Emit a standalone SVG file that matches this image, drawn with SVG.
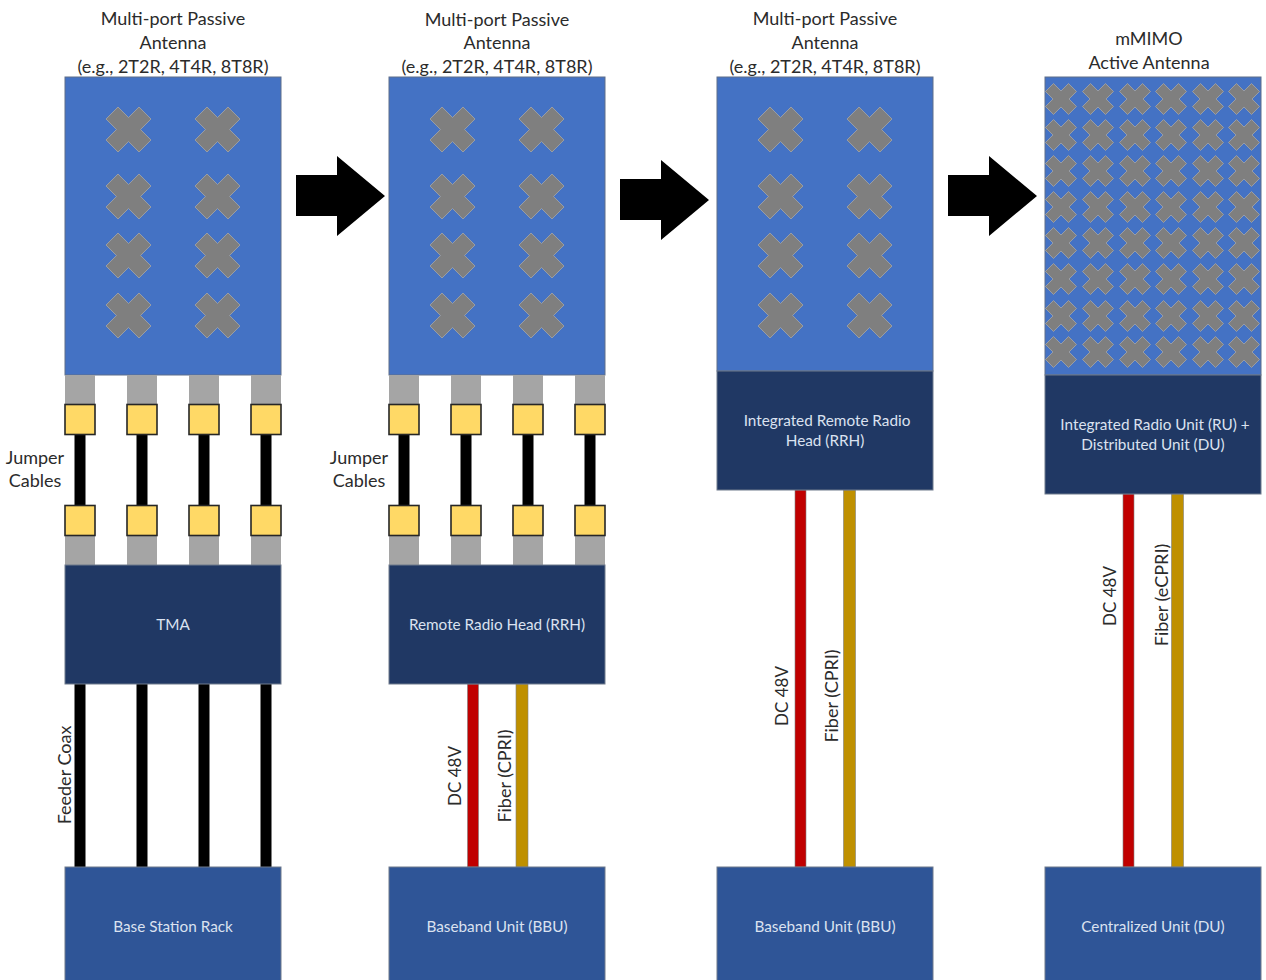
<svg xmlns="http://www.w3.org/2000/svg" width="1266" height="980" viewBox="0 0 1266 980">
<style>
text{font-family:"Lato","Open Sans","Liberation Sans",sans-serif;text-anchor:middle}
.t{font-size:18px;fill:#2b2b2b}
.v{font-size:17px;fill:#2b2b2b}
.w{font-size:15.3px;fill:#dbe2f0}
.ant{fill:#4472c4;stroke:#5f6f8a;stroke-width:1}
.dark{fill:#203864;stroke:#6f7a8c;stroke-width:1}
.base{fill:#2f5597;stroke:#6f7a8c;stroke-width:1}
.g{fill:#a5a5a5}
.y{fill:#ffd966;stroke:#262626;stroke-width:1.6}
.k{fill:#000}
.r{fill:#c00000;stroke:#7f7f7f;stroke-width:.6}
.o{fill:#bf9000;stroke:#7f7f7f;stroke-width:.6}
.x{fill:#7f7f7f;stroke:#a6a6a6;stroke-width:.8}
</style>
<defs>
<polygon id="x" points="-10.500,-22.500 0,-12 10.500,-22.500 22.500,-10.500 12,0 22.500,10.500 10.500,22.500 0,12 -10.500,22.500 -22.500,10.500 -12,0 -22.500,-10.500" class="x"/>
<polygon id="xs" points="-7.500,-15.500 0,-8 7.500,-15.500 15.500,-7.500 8,0 15.500,7.500 7.500,15.500 0,8 -7.500,15.500 -15.500,7.500 -8,0 -15.500,-7.500" class="x"/>
<g id="xset">
<use href="#x" x="63.500" y="129.500"/><use href="#x" x="152.500" y="129.500"/>
<use href="#x" x="63.500" y="196.500"/><use href="#x" x="152.500" y="196.500"/>
<use href="#x" x="63.500" y="255.500"/><use href="#x" x="152.500" y="255.500"/>
<use href="#x" x="63.500" y="315.500"/><use href="#x" x="152.500" y="315.500"/>
</g>
<g id="jump">
<rect class="g" x="0" y="375" width="30" height="29"/><rect class="g" x="62" y="375" width="30" height="29"/><rect class="g" x="124" y="375" width="30" height="29"/><rect class="g" x="186" y="375" width="30" height="29"/>
<rect class="g" x="0" y="535" width="30" height="30"/><rect class="g" x="62" y="535" width="30" height="30"/><rect class="g" x="124" y="535" width="30" height="30"/><rect class="g" x="186" y="535" width="30" height="30"/>
<rect class="k" x="9.500" y="434" width="11" height="72"/><rect class="k" x="71.500" y="434" width="11" height="72"/><rect class="k" x="133.500" y="434" width="11" height="72"/><rect class="k" x="195.500" y="434" width="11" height="72"/>
<rect class="y" x="0" y="404.500" width="30" height="30"/><rect class="y" x="62" y="404.500" width="30" height="30"/><rect class="y" x="124" y="404.500" width="30" height="30"/><rect class="y" x="186" y="404.500" width="30" height="30"/>
<rect class="y" x="0" y="505.500" width="30" height="30"/><rect class="y" x="62" y="505.500" width="30" height="30"/><rect class="y" x="124" y="505.500" width="30" height="30"/><rect class="y" x="186" y="505.500" width="30" height="30"/>
</g>
<polygon id="arrow" points="0,19 41,19 41,0 89,40 41,80 41,60 0,60" class="k"/>
</defs>

<g id="connectors">
<rect class="k" x="74.500" y="684" width="11" height="183"/><rect class="k" x="136.500" y="684" width="11" height="183"/><rect class="k" x="198.500" y="684" width="11" height="183"/><rect class="k" x="260.500" y="684" width="11" height="183"/>
<rect class="r" x="467.500" y="684" width="11" height="183"/><rect class="o" x="516" y="684" width="12" height="183"/>
<rect class="r" x="795" y="490" width="11" height="377"/><rect class="o" x="843.500" y="490" width="12" height="377"/>
<rect class="r" x="1123" y="494" width="11" height="373"/><rect class="o" x="1171.500" y="494" width="12" height="373"/>
<use id="arrow1" href="#arrow" x="296" y="156"/>
<use id="arrow2" href="#arrow" x="620" y="160"/>
<use id="arrow3" href="#arrow" x="948" y="156"/>
</g>

<g id="antenna1">
<text class="t" x="173" y="25">Multi-port Passive</text><text class="t" x="173" y="49">Antenna</text><text class="t" x="173" y="73">(e.g., 2T2R, 4T4R, 8T8R)</text>
<rect class="ant" x="65" y="77" width="216" height="298"/><use href="#xset" x="65"/>
</g>
<g id="jumpers1"><use href="#jump" x="65"/>
<text class="t" x="35" y="464">Jumper</text><text class="t" x="35" y="487">Cables</text></g>
<g id="tma"><rect class="dark" x="65" y="565" width="216" height="119"/><text class="w" x="173" y="630">TMA</text></g>
<g id="rack"><rect class="base" x="65" y="867" width="216" height="114"/><text class="w" x="173" y="932">Base Station Rack</text></g>
<text class="t" transform="translate(71 775) rotate(-90)">Feeder Coax</text>

<g id="antenna2">
<text class="t" x="497" y="26">Multi-port Passive</text><text class="t" x="497" y="49">Antenna</text><text class="t" x="497" y="73">(e.g., 2T2R, 4T4R, 8T8R)</text>
<rect class="ant" x="389" y="77" width="216" height="298"/><use href="#xset" x="389"/>
</g>
<g id="jumpers2"><use href="#jump" x="389"/>
<text class="t" x="359" y="464">Jumper</text><text class="t" x="359" y="487">Cables</text></g>
<g id="rrh"><rect class="dark" x="389" y="565" width="216" height="119"/><text class="w" x="497" y="630">Remote Radio Head (RRH)</text></g>
<g id="bbu1"><rect class="base" x="389" y="867" width="216" height="114"/><text class="w" x="497" y="932">Baseband Unit (BBU)</text></g>
<text class="v" transform="translate(461 776) rotate(-90)">DC 48V</text>
<text class="t" transform="translate(511 776) rotate(-90)">Fiber (CPRI)</text>

<g id="antenna3">
<text class="t" x="825" y="25">Multi-port Passive</text><text class="t" x="825" y="49">Antenna</text><text class="t" x="825" y="73">(e.g., 2T2R, 4T4R, 8T8R)</text>
<rect class="ant" x="717" y="77" width="216" height="294"/><use href="#xset" x="717"/>
</g>
<g id="irrh"><rect class="dark" x="717" y="371" width="216" height="119"/><text class="w" x="827" y="426">Integrated Remote Radio</text><text class="w" x="825" y="446">Head (RRH)</text></g>
<g id="bbu2"><rect class="base" x="717" y="867" width="216" height="114"/><text class="w" x="825" y="932">Baseband Unit (BBU)</text></g>
<text class="v" transform="translate(788 696) rotate(-90)">DC 48V</text>
<text class="t" transform="translate(838 696) rotate(-90)">Fiber (CPRI)</text>

<g id="antenna4">
<text class="t" x="1149" y="45">mMIMO</text><text class="t" x="1149" y="69">Active Antenna</text>
<rect class="ant" x="1045" y="77" width="216" height="298"/>
<use href="#xs" x="1061" y="99"/><use href="#xs" x="1098" y="99"/><use href="#xs" x="1135" y="99"/><use href="#xs" x="1171" y="99"/><use href="#xs" x="1208" y="99"/><use href="#xs" x="1244" y="99"/>
<use href="#xs" x="1061" y="135"/><use href="#xs" x="1098" y="135"/><use href="#xs" x="1135" y="135"/><use href="#xs" x="1171" y="135"/><use href="#xs" x="1208" y="135"/><use href="#xs" x="1244" y="135"/>
<use href="#xs" x="1061" y="171"/><use href="#xs" x="1098" y="171"/><use href="#xs" x="1135" y="171"/><use href="#xs" x="1171" y="171"/><use href="#xs" x="1208" y="171"/><use href="#xs" x="1244" y="171"/>
<use href="#xs" x="1061" y="207"/><use href="#xs" x="1098" y="207"/><use href="#xs" x="1135" y="207"/><use href="#xs" x="1171" y="207"/><use href="#xs" x="1208" y="207"/><use href="#xs" x="1244" y="207"/>
<use href="#xs" x="1061" y="243"/><use href="#xs" x="1098" y="243"/><use href="#xs" x="1135" y="243"/><use href="#xs" x="1171" y="243"/><use href="#xs" x="1208" y="243"/><use href="#xs" x="1244" y="243"/>
<use href="#xs" x="1061" y="279"/><use href="#xs" x="1098" y="279"/><use href="#xs" x="1135" y="279"/><use href="#xs" x="1171" y="279"/><use href="#xs" x="1208" y="279"/><use href="#xs" x="1244" y="279"/>
<use href="#xs" x="1061" y="316"/><use href="#xs" x="1098" y="316"/><use href="#xs" x="1135" y="316"/><use href="#xs" x="1171" y="316"/><use href="#xs" x="1208" y="316"/><use href="#xs" x="1244" y="316"/>
<use href="#xs" x="1061" y="352"/><use href="#xs" x="1098" y="352"/><use href="#xs" x="1135" y="352"/><use href="#xs" x="1171" y="352"/><use href="#xs" x="1208" y="352"/><use href="#xs" x="1244" y="352"/>
</g>
<g id="irudu"><rect class="dark" x="1045" y="375" width="216" height="119"/><text class="w" x="1155" y="430">Integrated Radio Unit (RU) +</text><text class="w" x="1153" y="450">Distributed Unit (DU)</text></g>
<g id="cu"><rect class="base" x="1045" y="867" width="216" height="114"/><text class="w" x="1153" y="932">Centralized Unit (DU)</text></g>
<text class="v" transform="translate(1116 596) rotate(-90)">DC 48V</text>
<text class="t" transform="translate(1168 595) rotate(-90)">Fiber (eCPRI)</text>
</svg>
